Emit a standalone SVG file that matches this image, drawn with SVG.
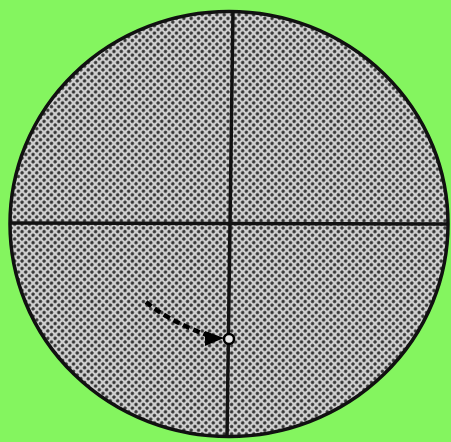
<svg xmlns="http://www.w3.org/2000/svg" width="451" height="442" viewBox="0 0 451 442">
<defs>
<pattern id="dots" width="5.2" height="5.2" patternUnits="userSpaceOnUse" patternTransform="rotate(45)">
<rect width="5.2" height="5.2" fill="#cfcfcf"/>
<circle cx="2.6" cy="2.6" r="1.7" fill="#333"/>
</pattern>
<marker id="ah" markerWidth="8" markerHeight="8" refX="6" refY="4" orient="auto" markerUnits="userSpaceOnUse">
<path d="M0,0 L8,4 L0,8 Z" fill="#000"/>
</marker>
<style>
.line{stroke:#111;stroke-width:3.5;fill:none}
</style>
</defs>
<rect width="451" height="442" fill="#84f55f"/>
<g id="disc">
<ellipse cx="229" cy="224" rx="219" ry="212.5" fill="url(#dots)" stroke="#111" stroke-width="3.5"/>
</g>
<g id="crosshair">
<line class="line" x1="233" y1="11" x2="227" y2="437"/>
<line class="line" x1="10" y1="223" x2="448" y2="224"/>
</g>
<g id="connectors">
<path d="M146,302 Q170,322 212,337" fill="none" stroke="#000" stroke-width="4.5" stroke-dasharray="7,4" marker-end="url(#ah)"/>
<path d="M205,331 L224,338 L205,346 Z" fill="#000"/>
</g>
<g id="target">
<circle cx="229" cy="339" r="5" fill="#e8e8e8" stroke="#000" stroke-width="2.5"/>
</g>
</svg>
